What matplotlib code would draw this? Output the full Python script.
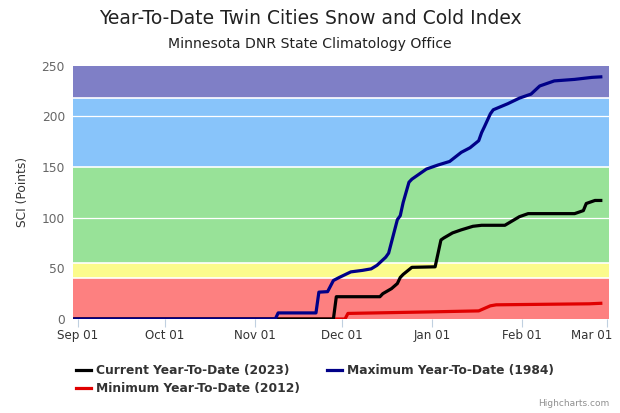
"""Year-to-date Twin Cities Snow and Cold Index chart."""

import matplotlib

matplotlib.use("Agg")

import matplotlib.dates as mdates
import matplotlib.pyplot as plt
import matplotlib.transforms as mtransforms
import pandas as pd

# --- data ----------------------------------------------------------------
current_dates = [
    "2023-08-31", "2023-11-28", "2023-11-29", "2023-12-14", "2023-12-15",
    "2023-12-18", "2023-12-20", "2023-12-21", "2023-12-22", "2023-12-25",
    "2024-01-02", "2024-01-04", "2024-01-05", "2024-01-08", "2024-01-11",
    "2024-01-15", "2024-01-18", "2024-01-26", "2024-01-31", "2024-02-03",
    "2024-02-19", "2024-02-22", "2024-02-23", "2024-02-26", "2024-02-28",
]
current_values = [
    0, 0, 22, 22, 25,
    30, 35, 41, 44, 51,
    51.5, 78, 80, 85, 88,
    91.5, 92.5, 92.5, 101, 104,
    104, 107, 114, 117, 117,
]

maximum_dates = [
    "2023-08-31", "2023-11-08", "2023-11-09", "2023-11-22", "2023-11-23",
    "2023-11-26", "2023-11-28", "2023-11-30", "2023-12-04", "2023-12-08",
    "2023-12-11", "2023-12-13", "2023-12-16", "2023-12-17", "2023-12-20",
    "2023-12-21", "2023-12-22", "2023-12-24", "2023-12-25", "2023-12-27",
    "2023-12-30", "2024-01-03", "2024-01-07", "2024-01-11", "2024-01-14",
    "2024-01-17", "2024-01-18", "2024-01-19", "2024-01-21", "2024-01-22",
    "2024-01-27", "2024-01-31", "2024-02-04", "2024-02-07", "2024-02-12",
    "2024-02-19", "2024-02-25", "2024-02-28",
]
maximum_values = [
    0, 0, 6, 6, 26.5,
    27, 38, 41, 46.5, 48,
    49.5, 53, 61, 65, 98,
    102, 115, 135, 138, 142,
    148, 152, 155.5, 164.5, 169,
    176, 184, 190, 202.5, 206.5,
    212.5, 218, 222, 230, 235,
    236.5, 238.5, 239,
]

minimum_dates = [
    "2023-08-31", "2023-12-02", "2023-12-03", "2023-12-31", "2024-01-17",
    "2024-01-21", "2024-01-23", "2024-02-24", "2024-02-28",
]
minimum_values = [0, 0, 5.5, 7, 8, 13, 14, 15, 15.5]

# index categories as horizontal bands
band_edges = [0, 40, 55, 150, 218, 250]
band_colors = ["#fd8080", "#fbfb8c", "#98e298", "#88c4fa", "#7f7fc6"]

tick_dates = ["2023-09-01", "2023-10-01", "2023-11-01", "2023-12-01",
              "2024-01-01", "2024-02-01", "2024-03-01"]

# --- figure --------------------------------------------------------------
fig = plt.figure(figsize=(6.2, 4.13), dpi=100)
fig.patch.set_facecolor("white")
ax = fig.add_axes([0.1182, 0.2276, 0.8641, 0.6133])

for low, high, color in zip(band_edges[:-1], band_edges[1:], band_colors):
    ax.axhspan(low, high, color=color, lw=0, zorder=0)
for edge in band_edges[1:-1]:
    ax.axhline(edge, color="white", lw=1.2, zorder=1)
for grid in (100, 200):
    ax.axhline(grid, color="white", lw=0.9, zorder=1)

series = [
    (minimum_dates, minimum_values, "#e00000", "Minimum Year-To-Date (2012)"),
    (current_dates, current_values, "black", "Current Year-To-Date (2023)"),
    (maximum_dates, maximum_values, "#000088", "Maximum Year-To-Date (1984)"),
]
handles = {}
for dates, values, color, label in series:
    (line,) = ax.plot(pd.to_datetime(dates), values, color=color, lw=2.3,
                      solid_joinstyle="round", zorder=3, label=label)
    handles[label] = line

ax.set_xlim(pd.Timestamp("2023-08-30 12:00"), pd.Timestamp("2024-03-01 20:00"))
ax.set_ylim(0, 250)
ax.set_yticks([0, 50, 100, 150, 200, 250])
ax.set_xticks(pd.to_datetime(tick_dates))
ax.xaxis.set_major_formatter(mdates.DateFormatter("%b %d"))

for spine in ax.spines.values():
    spine.set_visible(False)
ax.tick_params(axis="y", length=0, pad=6, labelsize=8.8, labelcolor="#666666")
ax.tick_params(axis="x", length=6, width=0.8, color="#c0d0e0", pad=1.5,
               labelsize=8.6, labelcolor="#333333")
ax.set_ylabel("SCI (Points)", fontsize=8.8, color="#333333", labelpad=9)

# keep the last date label inside the figure, as Highcharts does
fig.canvas.draw()
last_label = ax.get_xticklabels()[-1]
last_label.set_transform(last_label.get_transform() + mtransforms.ScaledTranslation(
    -15 / 100, 0, fig.dpi_scale_trans))

fig.text(0.5, 0.955, "Year-To-Date Twin Cities Snow and Cold Index",
         ha="center", va="center", fontsize=13.5, color="#222222")
fig.text(0.5, 0.893, "Minnesota DNR State Climatology Office",
         ha="center", va="center", fontsize=10.1, color="#222222")

order = ["Current Year-To-Date (2023)", "Minimum Year-To-Date (2012)",
         "Maximum Year-To-Date (1984)"]
leg = fig.legend([handles[k] for k in order], order, ncol=2,
                 loc="upper left", bbox_to_anchor=(0.105, 0.145),
                 frameon=False, handlelength=1.2, handletextpad=0.45,
                 columnspacing=2.2, labelspacing=0.4,
                 prop={"size": 8.8, "weight": "bold"})
for text in leg.get_texts():
    text.set_color("#333333")

fig.text(0.983, 0.022, "Highcharts.com", ha="right", va="center",
         fontsize=6.5, color="#909090")

fig.savefig("out.png", dpi=100)
